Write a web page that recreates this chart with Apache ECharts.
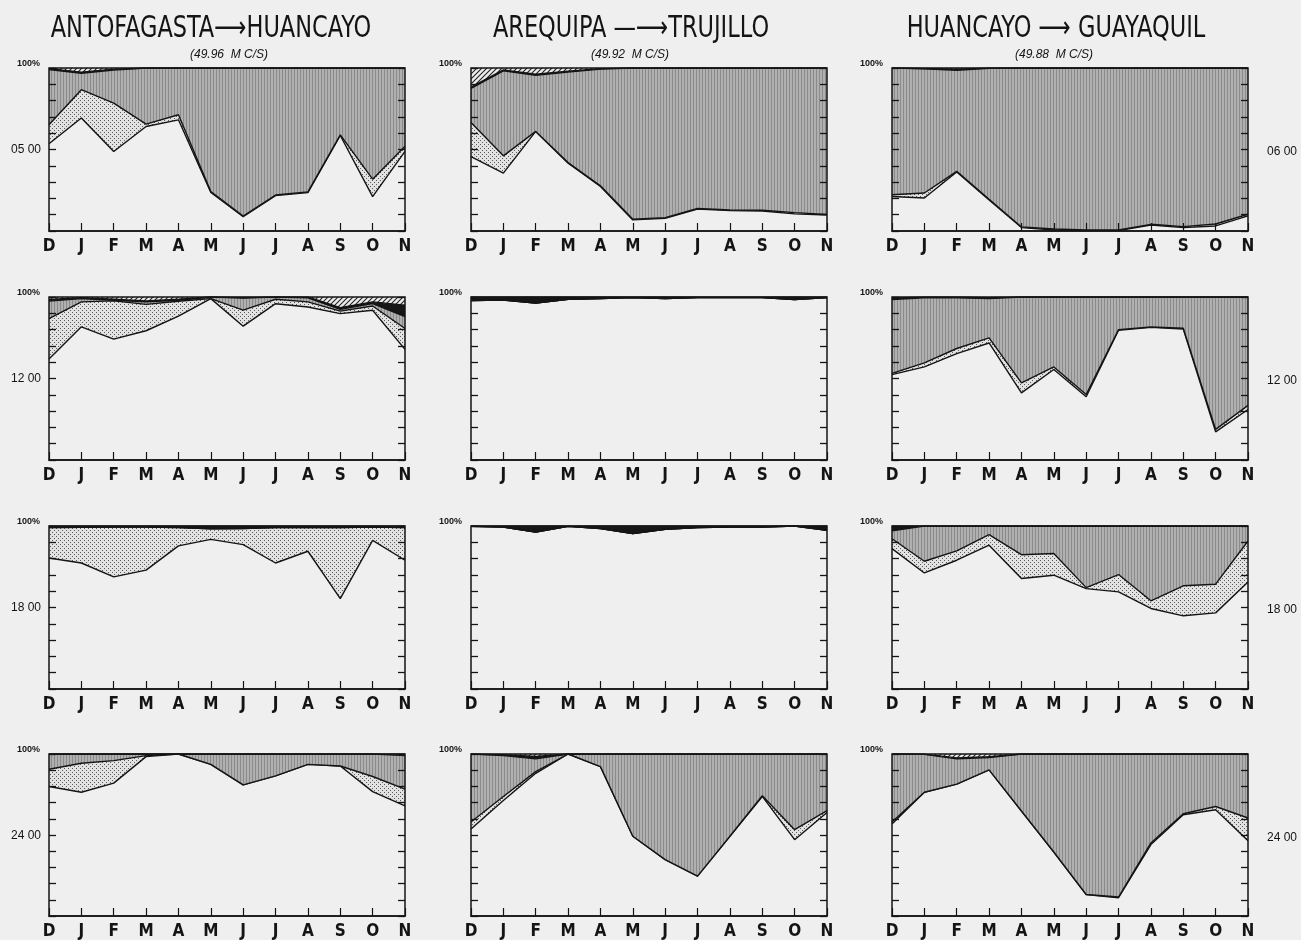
<!DOCTYPE html>
<html>
<head>
<meta charset="utf-8">
<script src="https://cdn.jsdelivr.net/npm/echarts@6/dist/echarts.min.js"></script>
<style>
  html, body { margin: 0; padding: 0; background: #efefef; }
  #chart { width: 1301px; height: 940px; }
</style>
</head>
<body>
<div id="chart"></div>
<script>
// Month axis (December through November)
const months = ['D', 'J', 'F', 'M', 'A', 'M', 'J', 'J', 'A', 'S', 'O', 'N'];
const routes = ['ANTOFAGASTA\u27F6HUANCAYO', 'AREQUIPA \u2014\u27F6TRUJILLO', 'HUANCAYO \u27F6 GUAYAQUIL'];
const frequencies = ['(49.96  M C/S)', '(49.92  M C/S)', '(49.88  M C/S)'];
const hoursLeft = ['05 00', '12 00', '18 00', '24 00'];
const hoursRight = ['06 00', '12 00', '18 00', '24 00'];
const topLabel = '100%';

// Each panel: upper edge (percent) of the clear, dotted, striped and solid bands;
// the hatched band fills the rest up to 100 %.
// Antofagasta -> Huancayo
const ah06Clear   = [53.5, 69.3, 48.8, 64.1, 68.2, 23.6, 8.8, 21.7, 23.6, 58.6, 21.1, 48.8];
const ah06Dotted  = [65.2, 86.7, 78.5, 65.6, 71.3, 24.2, 9.2, 22.1, 24.0, 59.0, 31.8, 52.0];
const ah06Striped = [99.0, 96.8, 98.8, 100, 100, 100, 100, 100, 100, 100, 100, 100];
const ah06Solid   = [99.5, 97.5, 99.3, 100, 100, 100, 100, 100, 100, 100, 100, 100];

const ah12Clear   = [62.0, 81.7, 74.2, 79.3, 88.2, 99.0, 82.1, 95.9, 93.9, 89.8, 91.9, 67.9];
const ah12Dotted  = [86.8, 97.0, 97.6, 95.5, 97.4, 99.0, 91.9, 98.6, 97.0, 91.3, 94.5, 80.7];
const ah12Striped = [97.5, 99.0, 98.0, 97.0, 98.0, 100, 99.3, 100, 99.5, 92.5, 96.0, 88.0];
const ah12Solid   = [98.5, 99.5, 98.6, 97.6, 98.6, 100, 99.7, 100, 100, 93.5, 97.0, 95.0];

const ah18Clear   = [80.4, 77.3, 68.8, 72.9, 87.8, 91.8, 88.6, 77.3, 84.5, 55.5, 91.2, 79.0];
const ah18Dotted  = [99.0, 99.2, 99.3, 99.3, 99.0, 98.3, 98.5, 99.0, 99.0, 99.0, 99.4, 99.0];
const ah18Striped = [99.0, 99.2, 99.3, 99.3, 99.0, 98.3, 98.5, 99.0, 99.0, 99.0, 99.4, 99.0];
const ah18Solid   = [100, 100, 100, 100, 100, 100, 100, 100, 100, 100, 100, 100];

const ah24Clear   = [79.9, 76.4, 82.0, 98.4, 100, 93.6, 80.9, 86.5, 93.6, 92.6, 76.8, 68.0];
const ah24Dotted  = [90.6, 94.3, 95.9, 99.0, 100, 93.6, 80.9, 86.5, 93.6, 92.6, 86.1, 78.3];
const ah24Striped = [100, 100, 100, 100, 100, 100, 100, 100, 100, 100, 100, 99.0];
const ah24Solid   = [100, 100, 100, 100, 100, 100, 100, 100, 100, 100, 100, 100];

// Arequipa -> Trujillo
const at06Clear   = [45.7, 35.5, 61.1, 41.6, 27.3, 6.8, 7.8, 13.5, 12.5, 12.3, 10.5, 9.8];
const at06Dotted  = [66.6, 46.1, 61.1, 42.0, 27.7, 7.2, 8.2, 13.9, 12.9, 12.7, 11.3, 10.2];
const at06Striped = [87.5, 98.3, 95.5, 97.5, 99.3, 100, 100, 100, 100, 100, 100, 100];
const at06Solid   = [88.3, 98.8, 96.2, 98.0, 99.6, 100, 100, 100, 100, 100, 100, 100];

const at12Clear   = [97.8, 98.2, 96.3, 98.6, 99.0, 99.6, 99.0, 99.6, 99.6, 99.6, 98.4, 99.6];
const at12Dotted  = [97.8, 98.2, 96.3, 98.6, 99.0, 99.6, 99.0, 99.6, 99.6, 99.6, 98.4, 99.6];
const at12Striped = [97.8, 98.2, 96.3, 98.6, 99.0, 99.6, 99.0, 99.6, 99.6, 99.6, 98.4, 99.6];
const at12Solid   = [100, 100, 100, 100, 100, 100, 100, 100, 100, 100, 100, 100];

const at18Clear   = [99.8, 99.4, 96.3, 99.8, 98.4, 95.3, 98.0, 99.0, 99.4, 99.4, 100, 97.3];
const at18Dotted  = [99.8, 99.4, 96.3, 99.8, 98.4, 95.3, 98.0, 99.0, 99.4, 99.4, 100, 97.3];
const at18Striped = [99.8, 99.4, 96.3, 99.8, 98.4, 95.3, 98.0, 99.0, 99.4, 99.4, 100, 97.3];
const at18Solid   = [100, 100, 100, 100, 100, 100, 100, 100, 100, 100, 100, 100];

const at24Clear   = [53.7, 71.3, 88.1, 100, 92.2, 49.2, 34.8, 24.6, 49.2, 73.8, 47.1, 63.9];
const at24Dotted  = [58.0, 73.8, 89.1, 100, 92.2, 49.2, 34.8, 24.6, 49.2, 74.2, 53.3, 65.0];
const at24Striped = [100, 99.0, 97.0, 100, 100, 100, 100, 100, 100, 100, 100, 100];
const at24Solid   = [100, 99.5, 98.5, 100, 100, 100, 100, 100, 100, 100, 100, 100];

// Huancayo -> Guayaquil
const hg06Clear   = [21.2, 20.2, 36.2, 19.1, 2.1, 0.6, 0.2, 0.2, 3.7, 2.1, 3.1, 9.3];
const hg06Dotted  = [22.2, 23.3, 36.6, 19.5, 2.5, 1.2, 0.6, 0.6, 4.1, 2.7, 4.3, 10.3];
const hg06Striped = [100, 99.5, 98.6, 99.8, 100, 100, 100, 100, 100, 100, 100, 100];
const hg06Solid   = [100, 99.7, 99.2, 100, 100, 100, 100, 100, 100, 100, 100, 100];

const hg12Clear   = [52.4, 57.1, 65.3, 71.8, 41.2, 55.5, 38.8, 79.6, 81.4, 80.4, 17.3, 31.0];
const hg12Dotted  = [53.1, 59.6, 68.4, 74.9, 47.3, 57.1, 40.2, 80.0, 81.6, 80.8, 18.8, 33.5];
const hg12Striped = [98.5, 99.5, 99.5, 99.0, 100, 100, 100, 100, 100, 100, 100, 100];
const hg12Solid   = [99.2, 100, 100, 99.6, 100, 100, 100, 100, 100, 100, 100, 100];

const hg18Clear   = [86.1, 71.2, 79.0, 88.2, 67.8, 69.8, 61.6, 59.6, 49.4, 44.9, 46.7, 65.7];
const hg18Dotted  = [92.2, 78.4, 84.7, 94.7, 82.4, 83.1, 62.2, 70.2, 54.1, 63.3, 64.3, 90.8];
const hg18Striped = [97.0, 100, 100, 100, 100, 100, 100, 100, 100, 100, 100, 100];
const hg18Solid   = [100, 100, 100, 100, 100, 100, 100, 100, 100, 100, 100, 100];

const hg24Clear   = [56.8, 76.4, 81.4, 90.2, 64.8, 39.5, 13.3, 11.3, 44.1, 62.5, 65.6, 46.5];
const hg24Dotted  = [58.0, 76.4, 81.4, 90.2, 64.8, 39.5, 13.3, 11.7, 45.1, 63.1, 67.6, 60.5];
const hg24Striped = [100, 99.8, 97.0, 97.8, 100, 100, 100, 100, 100, 100, 100, 100];
const hg24Solid   = [100, 99.9, 97.6, 98.3, 100, 100, 100, 100, 100, 100, 100, 100];

// Panels in reading order: row (hour) by column (route)
const panels = [
  [ah06Clear, ah06Dotted, ah06Striped, ah06Solid],
  [at06Clear, at06Dotted, at06Striped, at06Solid],
  [hg06Clear, hg06Dotted, hg06Striped, hg06Solid],
  [ah12Clear, ah12Dotted, ah12Striped, ah12Solid],
  [at12Clear, at12Dotted, at12Striped, at12Solid],
  [hg12Clear, hg12Dotted, hg12Striped, hg12Solid],
  [ah18Clear, ah18Dotted, ah18Striped, ah18Solid],
  [at18Clear, at18Dotted, at18Striped, at18Solid],
  [hg18Clear, hg18Dotted, hg18Striped, hg18Solid],
  [ah24Clear, ah24Dotted, ah24Striped, ah24Solid],
  [at24Clear, at24Dotted, at24Striped, at24Solid],
  [hg24Clear, hg24Dotted, hg24Striped, hg24Solid]
];

// ---- layout ----
const colLeft = [49, 471, 892];
const colWidth = 356;
const rowTop = [68, 297, 526, 754];
const rowHeight = 163;
const ink = '#141414';
const narrow = "'DejaVu Sans Condensed', 'Liberation Sans Narrow', 'Roboto Condensed', 'Liberation Sans', sans-serif";

// ---- fill patterns ----
function makePattern(w, h, draw) {
  const c = document.createElement('canvas');
  c.width = w; c.height = h;
  draw(c.getContext('2d'));
  return { image: c, repeat: 'repeat' };
}
const dotFill = makePattern(4, 4, ctx => {
  ctx.fillStyle = '#e2e2e2'; ctx.fillRect(0, 0, 4, 4);
  ctx.fillStyle = '#5a5a5a'; ctx.fillRect(0, 0, 1, 1); ctx.fillRect(2, 2, 1, 1);
});
const stripeFill = makePattern(3, 4, ctx => {
  ctx.fillStyle = '#b0b0b0'; ctx.fillRect(0, 0, 3, 4);
  ctx.fillStyle = '#8a8a8a'; ctx.fillRect(0, 0, 1, 4);
});
const hatchFill = makePattern(5, 5, ctx => {
  ctx.fillStyle = '#ececec'; ctx.fillRect(0, 0, 5, 5);
  ctx.strokeStyle = '#222'; ctx.lineWidth = 1.1;
  ctx.beginPath();
  ctx.moveTo(0, 5); ctx.lineTo(5, 0);
  ctx.moveTo(-1, 1); ctx.lineTo(1, -1);
  ctx.moveTo(4, 6); ctx.lineTo(6, 4);
  ctx.stroke();
});
const bandFills = [dotFill, stripeFill, '#161616', hatchFill];

const grids = [], xAxes = [], yAxes = [], series = [], graphics = [];

panels.forEach((bands, i) => {
  const r = Math.floor(i / 3), c = i % 3;
  grids.push({
    left: colLeft[c], top: rowTop[r], width: colWidth, height: rowHeight,
    show: true, z: 10, backgroundColor: 'transparent',
    borderColor: ink, borderWidth: 1.5
  });
  xAxes.push({
    gridIndex: i, type: 'category', data: months, boundaryGap: false, z: 10,
    axisLine: { show: true, lineStyle: { color: ink, width: 1.5 } },
    axisTick: { show: true, inside: true, length: 8, interval: 0, lineStyle: { color: ink, width: 1.2 } },
    axisLabel: { interval: 0, margin: 7, fontSize: 17, fontFamily: narrow, color: ink, fontWeight: 'bold' },
    splitLine: { show: false }
  });
  ['left', 'right'].forEach(pos => {
    yAxes.push({
      gridIndex: i, type: 'value', min: 0, max: 100, interval: 10, position: pos, z: 10,
      axisLine: { show: false },
      axisLabel: { show: false },
      splitLine: { show: false },
      axisTick: { show: true, inside: true, length: 7, lineStyle: { color: ink, width: 1.3 } }
    });
  });
  bands.forEach((edge, j) => {
    series.push({
      type: 'line', xAxisIndex: i, yAxisIndex: 2 * i, data: edge,
      symbol: 'none', silent: true, animation: false, z: 2 + j,
      lineStyle: { color: ink, width: 1.4 },
      areaStyle: { color: bandFills[j], opacity: 1, origin: 'end' }
    });
  });
  // "100%" marker at the top-left corner of every panel
  graphics.push({
    type: 'text', left: colLeft[c] - 32, top: rowTop[r] - 9,
    style: { text: topLabel, font: "bold 9px 'Liberation Sans', sans-serif", fill: ink }
  });
});

// Route titles (tall, narrow lettering) and frequencies above each column
const titleCenters = [211, 631, 1056];
const subCenters = [229, 630, 1054];
routes.forEach((t, c) => {
  graphics.push({
    type: 'text', x: titleCenters[c], y: 29, scaleY: 1.2,
    style: { text: t, font: "25px " + narrow, fill: ink, textAlign: 'center', textVerticalAlign: 'middle' }
  });
  graphics.push({
    type: 'text', x: subCenters[c], y: 55,
    style: { text: frequencies[c], font: "italic 12px 'Liberation Sans', sans-serif", fill: ink, textAlign: 'center', textVerticalAlign: 'middle' }
  });
});

// Hour labels at the middle height of each row
hoursLeft.forEach((h, r) => {
  graphics.push({
    type: 'text', x: 26, y: rowTop[r] + rowHeight / 2,
    style: { text: h, font: "12px 'Liberation Sans', sans-serif", fill: ink, textAlign: 'center', textVerticalAlign: 'middle' }
  });
});
hoursRight.forEach((h, r) => {
  graphics.push({
    type: 'text', x: 1282, y: rowTop[r] + rowHeight / 2 + 2,
    style: { text: h, font: "12px 'Liberation Sans', sans-serif", fill: ink, textAlign: 'center', textVerticalAlign: 'middle' }
  });
});

const chart = echarts.init(document.getElementById('chart'), null, { renderer: 'canvas' });
chart.setOption({
  backgroundColor: '#efefef',
  animation: false,
  grid: grids,
  xAxis: xAxes,
  yAxis: yAxes,
  series: series,
  graphic: graphics
});
</script>
</body>
</html>
